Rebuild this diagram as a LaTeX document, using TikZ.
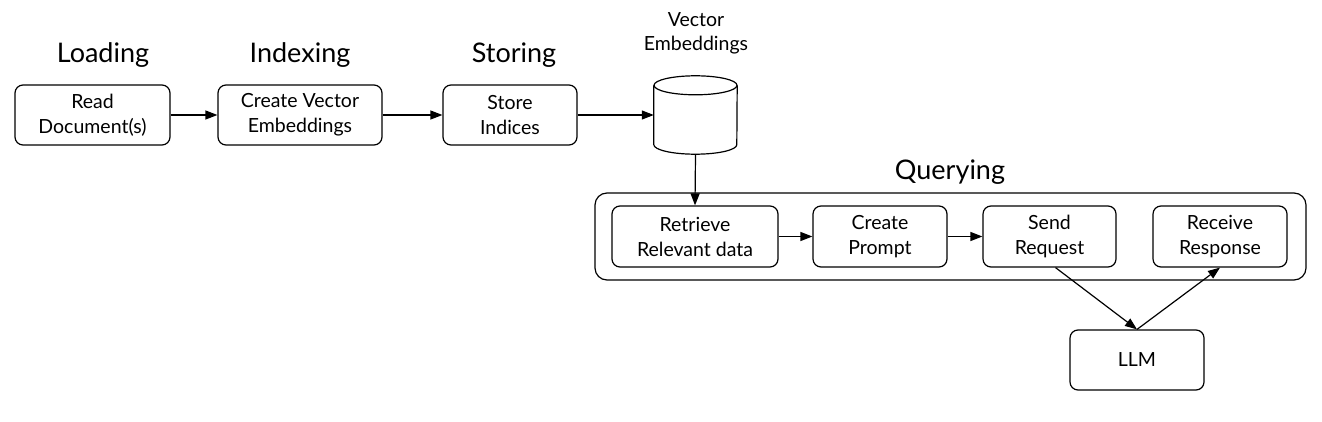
\documentclass[tikz,border=0pt]{standalone}
\usepackage{fontspec}
\setmainfont{Lato}
\usetikzlibrary{arrows.meta}
\begin{document}
\begin{tikzpicture}[x=1pt,y=-1pt,
  box/.style={draw,rounded corners=8pt,line width=1.2pt,align=center,font=\fontsize{19.5}{25}\selectfont,inner sep=0pt},
  head/.style={font=\fontsize{27}{30}\selectfont},
  arr/.style={-{Triangle[length=12pt,width=9pt]},line width=1.2pt}]
\useasboundingbox (0,0) rectangle (1322,422);
% top row
\node[box,minimum width=155pt,minimum height=60pt] (read) at (92.5,115) {Read\\Document(s)};
\node[box,minimum width=164pt,minimum height=60pt] (embed) at (300,115) {Create Vector\\Embeddings};
\node[box,minimum width=134pt,minimum height=60pt] (store) at (510,115) {Store\\Indices};
% cylinder
\node[minimum width=83pt,minimum height=78pt,inner sep=0pt] (db) at (695.5,115) {};
\draw[line width=1.2pt] ([yshift=-9.5pt]db.north) ellipse[x radius=41.5pt,y radius=9.5pt];
\draw[line width=1.2pt] ([yshift=-9.5pt]db.north west) -- ([yshift=9.5pt]db.south west)
  arc[start angle=180,end angle=360,x radius=41.5pt,y radius=9.5pt] -- ([yshift=-9.5pt]db.north east);
\node[head] (hload) at (103,55) {Loading};
\node[head] (hindex) at (300,55) {Indexing};
\node[head] (hstore) at (514,55) {Storing};
\node[align=center,font=\fontsize{19.5}{24}\selectfont] (vlabel) at (696,33) {Vector\\Embeddings};
% querying
\node[draw,rounded corners=12pt,line width=1.2pt,minimum width=711pt,minimum height=87pt] (qbox) at (950.5,236.5) {};
\node[head] (hquery) at (950,172) {Querying};
\node[box,minimum width=166pt,minimum height=61pt] (retr) at (695,236.5) {Retrieve\\Relevant data};
\node[box,minimum width=134pt,minimum height=61pt] (prompt) at (880,236.5) {Create\\Prompt};
\node[box,minimum width=133pt,minimum height=61pt] (send) at (1049.5,236.5) {Send\\Request};
\node[box,minimum width=134pt,minimum height=61pt] (recv) at (1220,236.5) {Receive\\Response};
\node[box,minimum width=134pt,minimum height=60pt] (llm) at (1137,360) {LLM};
% connectors
\draw[arr] (read) -- (embed);
\draw[arr] (embed) -- (store);
\draw[arr] (store.east) -- (db.west);
\draw[arr] (db.south) -- (retr.north);
\draw[arr] (retr) -- (prompt);
\draw[arr] (prompt) -- (send);
\draw[arr] ([xshift=6pt]send.south) -- (llm.north);
\draw[arr] (llm.north) -- (recv.south);
\end{tikzpicture}
\end{document}
